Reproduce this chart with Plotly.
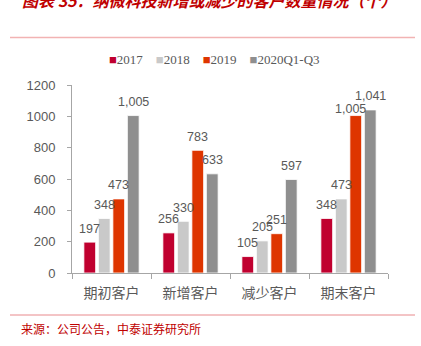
import plotly.graph_objects as go

categories = ["期初客户", "新增客户", "减少客户", "期末客户"]
series_names = ["2017", "2018", "2019", "2020Q1-Q3"]
v2017 = [197, 256, 105, 348]
v2018 = [348, 330, 205, 473]
v2019 = [473, 783, 251, 1005]
v2020 = [1005, 633, 597, 1041]
y_ticks = [0, 200, 400, 600, 800, 1000, 1200]

colors = ["#C0002F", "#C9C9C9", "#DE3500", "#8F8F8F"]
W, H = 421, 346
L, R, T, B = 72, 33, 85, 73
pw, ph = W - L - R, H - T - B

def px(x):
    return (x - L) / pw

def py(y):
    return (H - B - y) / ph

all_series = [v2017, v2018, v2019, v2020]

fig = go.Figure()
for name, vals, c in zip(series_names, all_series, colors):
    fig.add_trace(go.Bar(
        x=categories, y=vals, name=name,
        marker=dict(color=c, line=dict(color="white", width=0.8)),
    ))

# data labels (placed like the Excel labels: ~13px above the bar top)
pitch = 14.5
for si, vals in enumerate(all_series):
    for ci, v in enumerate(vals):
        xs = (si - 1.5) * pitch
        ys = 13.5
        if si == 2 and ci == 3:
            xs -= 5
            ys = 6.5
        fig.add_annotation(x=categories[ci], y=v, xref="x", yref="y", text=f"{v:,}",
                           showarrow=False, xshift=xs, yshift=ys, yanchor="middle",
                           font=dict(family="Liberation Sans, Arial", size=12.5, color="#595959"))

fig.update_layout(
    width=W, height=H,
    margin=dict(l=L, r=R, t=T, b=B),
    paper_bgcolor="white", plot_bgcolor="white",
    barmode="group", bargap=0.266, bargroupgap=0.19,
    showlegend=False,
    xaxis=dict(showline=True, linecolor="#A6A6A6", linewidth=1, ticks="outside",
               tickcolor="#A6A6A6", ticklen=5, tickson="boundaries",
               ticklabelstandoff=7,
               tickfont=dict(family="Noto Sans CJK SC", size=14, color="#595959"),
               showgrid=False, fixedrange=True),
    yaxis=dict(range=[0, 1200], tickvals=y_ticks, showline=True, linecolor="#A6A6A6",
               linewidth=1, ticks="outside", tickcolor="#A6A6A6", ticklen=4,
               ticklabelstandoff=9,
               tickfont=dict(family="Liberation Sans, Arial", size=13, color="#595959"),
               showgrid=False, zeroline=False, fixedrange=True),
    font=dict(family="Liberation Sans, Arial"),
)

legend_parts = []
for name, c in zip(series_names, colors):
    legend_parts.append(f"<span style='color:{c}'>■</span>{name}")
legend_text = "    ".join(legend_parts)
fig.add_annotation(xref="paper", yref="paper", x=px(214), y=py(60), xanchor="center", yanchor="middle",
                   text=legend_text, showarrow=False,
                   font=dict(family="Liberation Serif, Times New Roman", size=13, color="#595959"))

fig.add_shape(type="line", xref="paper", yref="paper", x0=px(10), x1=px(415),
              y0=py(37.5), y1=py(37.5), line=dict(color="#F2B3B3", width=1.5))
fig.add_shape(type="line", xref="paper", yref="paper", x0=px(10), x1=px(415),
              y0=py(315), y1=py(315), line=dict(color="#E8898C", width=1))

fig.add_annotation(xref="paper", yref="paper", x=px(20), y=py(0), xanchor="left", yanchor="middle",
                   text="<i><b>图表 35：纳微科技新增或减少的客户数量情况（个）</b></i>", showarrow=False,
                   font=dict(family="Noto Sans CJK SC", size=16, color="#C00000"))
fig.add_annotation(xref="paper", yref="paper", x=px(19), y=py(328), xanchor="left", yanchor="middle",
                   text="来源：公司公告，中泰证券研究所", showarrow=False,
                   font=dict(family="Noto Sans CJK SC", size=12, color="#C00000"))

fig.write_html("out.html")
